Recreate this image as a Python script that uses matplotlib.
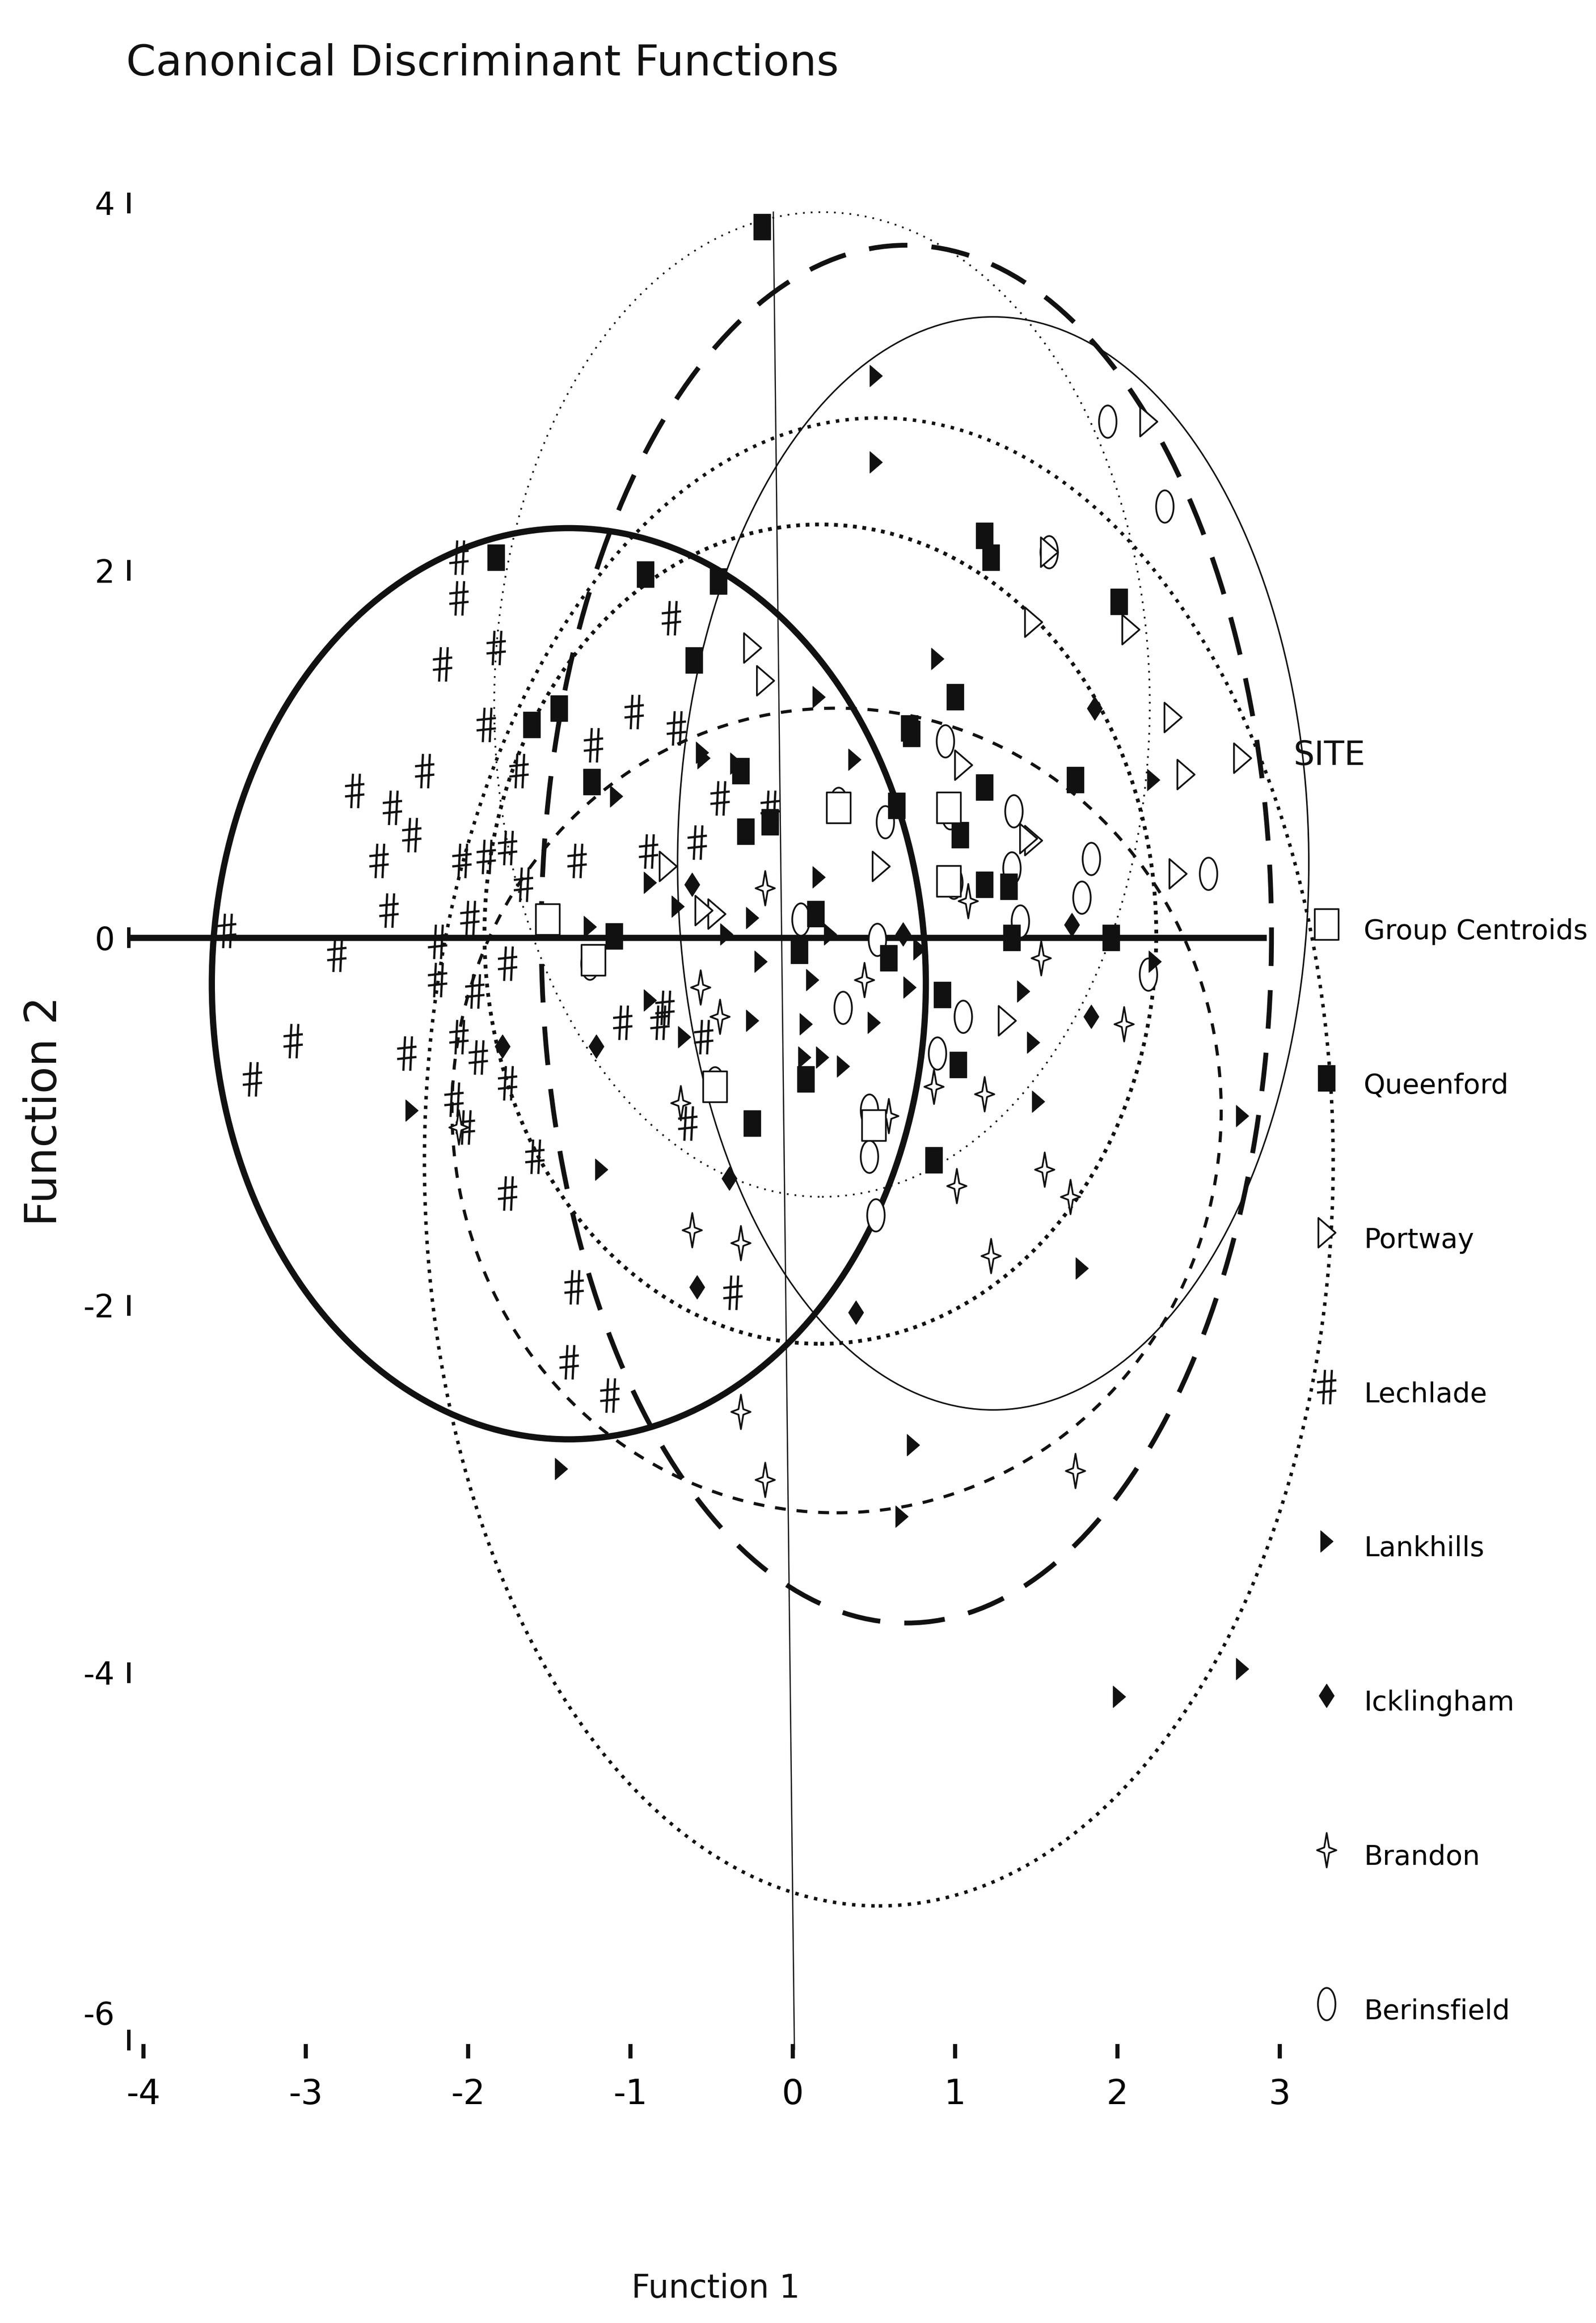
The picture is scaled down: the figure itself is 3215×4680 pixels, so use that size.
import numpy as np
import matplotlib
matplotlib.use('Agg')
import matplotlib.pyplot as plt
from matplotlib.path import Path
from matplotlib.patches import Ellipse
from matplotlib.lines import Line2D
from matplotlib.transforms import ScaledTranslation

plt.rcParams['axes.unicode_minus'] = False
FONT = ['DejaVu Sans']
INK = '#111111'

# ---- data (Function 1, Function 2) ----
lechlade_x = [-2.06, -2.06, -1.83, -2.16, -0.75, -1.23, -0.98, -0.72, -1.89, -2.27, -2.70, -1.69, -0.45,
              -3.49, -2.81, -3.08, -3.33, -2.55, -2.49, -2.35, -2.38, -2.19, -2.19, -2.04, -1.99, -1.89,
              -1.76, -1.66, -1.76, -1.96, -2.06, -1.94, -1.76, -2.09, -2.02, -1.59, -1.76, -1.33, -1.05,
              -0.82, -0.89, -0.59, -1.35, -1.38, -1.13, -0.37, -0.79, -0.55, -0.65, -2.47, -0.14]
lechlade_y = [2.07, 1.85, 1.58, 1.49, 1.74, 1.05, 1.23, 1.14, 1.16, 0.91, 0.80, 0.91, 0.76,
              0.04, -0.09, -0.56, -0.77, 0.42, 0.15, 0.56, -0.63, -0.02, -0.23, 0.42, 0.11, 0.44,
              0.49, 0.29, -0.14, -0.29, -0.54, -0.65, -0.79, -0.88, -1.03, -1.19, -1.39, 0.42, -0.46,
              -0.46, 0.47, 0.52, -1.90, -2.31, -2.49, -1.93, -0.38, -0.54, -1.01, 0.71, 0.71]

queenford_x = [-0.19, -1.83, -0.91, -0.46, -0.61, -1.44, -1.61, -1.24, -0.32, 1.18, 1.22, 2.01, 1.00,
               1.74, 1.18, 0.72, 1.96, 0.92, 0.87, 0.08, -0.25, 0.14, 0.04, 1.02, 1.18, 1.35, 0.59,
               -0.29, -0.14, 0.73, 1.03, 0.64, 1.33, -1.10]
queenford_y = [3.87, 2.07, 1.98, 1.94, 1.51, 1.25, 1.16, 0.85, 0.91, 2.19, 2.07, 1.83, 1.31,
               0.86, 0.82, 1.14, 0.00, -0.31, -1.21, -0.77, -1.01, 0.13, -0.07, -0.69, 0.29, 0.00, -0.11,
               0.58, 0.63, 1.11, 0.56, 0.72, 0.28, 0.01]

portway_x = [2.19, 1.48, 2.08, 2.34, 2.42, 2.77, 1.05, -0.25, -0.17, 1.48, 2.37, 1.32, 1.45, 0.54,
             -0.77, -0.47, 1.58, -0.55]
portway_y = [2.81, 1.72, 1.68, 1.20, 0.89, 0.98, 0.94, 1.58, 1.40, 0.53, 0.35, -0.45, 0.54, 0.39,
             0.39, 0.13, 2.10, 0.15]

lankhills_x = [0.51, 0.51, 0.89, 0.16, 2.22, 1.48, 2.77, 1.78, 1.42, 0.74, -0.25, -0.25, 0.08, 0.18,
               0.16, 0.72, 2.01, 2.77, 0.67, -2.35, -1.18, -1.25, -0.88, -1.43, -0.55, -1.09, -0.88,
               -0.71, -0.41, -0.56, -0.35, 0.38, -0.20, 0.12, 0.07, 0.31, 2.23, 1.51, 0.23, 0.50,
               0.78, -0.67]
lankhills_y = [3.06, 2.59, 1.52, 1.31, 0.86, -0.57, -0.97, -1.80, -0.29, -2.76, 0.11, -0.45, -0.47, -0.65,
               0.33, -0.27, -4.13, -3.98, -3.15, -0.94, -1.26, 0.06, -0.34, -2.89, 0.98, 0.77, 0.30,
               0.17, 0.02, 1.01, 0.95, 0.97, -0.13, -0.23, -0.65, -0.70, -0.13, -0.89, 0.02, -0.46,
               -0.06, -0.54]

icklingham_x = [1.84, 0.39, -1.21, -1.79, -0.62, -0.59, 1.86, 1.72, -0.39, 0.68]
icklingham_y = [-0.43, -2.04, -0.59, -0.59, 0.29, -1.90, 1.25, 0.07, -1.31, 0.02]

brandon_x = [2.04, 1.01, 1.55, 1.71, 1.22, 0.44, 0.87, 1.18, 0.59, 1.08, -0.17, 1.53, -0.17, 1.74,
             -0.32, -0.62, -0.32, -0.45, -0.57, -2.06, -0.69]
brandon_y = [-0.47, -1.35, -1.26, -1.41, -1.73, -0.23, -0.81, -0.85, -0.97, 0.20, 0.27, -0.11, -2.95, -2.90,
             -2.58, -1.59, -1.66, -0.43, -0.27, -1.03, -0.90]

berinsfield_x = [1.94, 2.29, 1.58, 1.84, 2.56, 1.78, 2.19, 1.05, 1.35, 1.40, 0.31, 0.47, 0.47, 0.89,
                 0.51, 0.28, 0.57, 0.97, 0.99, -0.48, 0.52, 0.05, 0.94, 1.36, -1.25]
berinsfield_y = [2.81, 2.35, 2.10, 0.43, 0.35, 0.22, -0.20, -0.43, 0.38, 0.09, -0.38, -0.94, -1.19, -0.63,
                 -1.51, 0.73, 0.63, 0.68, 0.30, -0.79, -0.01, 0.10, 1.07, 0.69, -0.14]

centroid_x = [-1.51, -1.23, 0.28, 0.96, 0.96, 0.50, -0.48]
centroid_y = [0.10, -0.12, 0.71, 0.71, 0.31, -1.02, -0.81]

# group ellipses: centre x, centre y, half width, half height
ell_cx = [-1.38, 1.235, 0.70, 0.18, 0.17, 0.53, 0.27]
ell_cy = [-0.25, 0.405, 0.02, 1.27, 0.02, -1.22, -0.94]
ell_rx = [2.20, 1.945, 2.25, 2.02, 2.07, 2.80, 2.37]
ell_ry = [2.48, 2.975, 3.75, 2.68, 2.23, 4.05, 2.19]
ell_lw = [9, 2.2, 7, 2.5, 5.5, 5, 4.5]
ell_ls = ['-', '-', (0, (8, 5)), (0, (1, 3.5)), (0, (1, 1.5)), (0, (1, 1.8)), (0, (3.5, 3.5))]

sites = ['Group Centroids', 'Queenford', 'Portway', 'Lechlade', 'Lankhills',
         'Icklingham', 'Brandon', 'Berinsfield']

# ---- marker shapes (the scan is tall and narrow) ----
def box(w):
    return Path([(-w / 2, -0.5), (w / 2, -0.5), (w / 2, 0.5), (-w / 2, 0.5), (-w / 2, -0.5)], closed=True)

tri_right = Path([(-0.28, -0.5), (0.3, 0.0), (-0.28, 0.5), (-0.28, -0.5)], closed=True)
diamond = Path([(0, -0.5), (0.32, 0), (0, 0.5), (-0.32, 0), (0, -0.5)], closed=True)
star4 = Path([(0, 0.5), (0.07, 0.08), (0.28, 0), (0.07, -0.08), (0, -0.5),
              (-0.07, -0.08), (-0.28, 0), (-0.07, 0.08), (0, 0.5)], closed=True)
t = np.linspace(0, 2 * np.pi, 41)
oval = Path(np.column_stack([0.27 * np.cos(t), 0.5 * np.sin(t)]), closed=True)
hash_mark = Path([(-0.1, -0.5), (-0.05, 0.5), (0.1, -0.5), (0.15, 0.5),
                  (-0.28, 0.14), (0.28, 0.2), (-0.28, -0.16), (0.28, -0.1)],
                 [Path.MOVETO, Path.LINETO] * 4)

styles = {
    'Group Centroids': dict(marker=box(0.78), ms=45, mfc='white', mec=INK, mew=2.5),
    'Queenford': dict(marker=box(0.65), ms=37, mfc=INK, mec=INK, mew=1),
    'Portway': dict(marker=tri_right, ms=43, mfc='white', mec=INK, mew=2.5),
    'Lechlade': dict(marker=hash_mark, ms=50, mfc='none', mec=INK, mew=3.2),
    'Lankhills': dict(marker=tri_right, ms=31, mfc=INK, mec=INK, mew=1),
    'Icklingham': dict(marker=diamond, ms=34, mfc=INK, mec=INK, mew=1),
    'Brandon': dict(marker=star4, ms=50, mfc='white', mec=INK, mew=2.5),
    'Berinsfield': dict(marker=oval, ms=47, mfc='white', mec=INK, mew=2.5),
}

# ---- figure ----
fig = plt.figure(figsize=(32.15, 46.80), dpi=100)
ax = fig.add_axes([0.08189, 0.11390, 0.76054, 0.79873])
ax.set_xlim(-4.08, 3.4)
ax.set_ylim(-6.1, 4.0)
for s in ax.spines.values():
    s.set_visible(False)

# reference lines
ax.plot([-4.08, 2.90], [0, 0], color=INK, lw=9, solid_capstyle='projecting', zorder=2)
ax.plot([-0.12, 0.01], [3.95, -6.05], color=INK, lw=1.8, zorder=2)

for cx, cy, rx, ry, lw, ls in zip(ell_cx, ell_cy, ell_rx, ell_ry, ell_lw, ell_ls):
    ax.add_patch(Ellipse((cx, cy), 2 * rx, 2 * ry, fill=False, edgecolor=INK,
                         lw=lw, linestyle=ls, clip_on=False, zorder=2))

groups = [(lechlade_x, lechlade_y, 'Lechlade'),
          (berinsfield_x, berinsfield_y, 'Berinsfield'),
          (brandon_x, brandon_y, 'Brandon'),
          (portway_x, portway_y, 'Portway'),
          (queenford_x, queenford_y, 'Queenford'),
          (lankhills_x, lankhills_y, 'Lankhills'),
          (icklingham_x, icklingham_y, 'Icklingham'),
          (centroid_x, centroid_y, 'Group Centroids')]
for gx, gy, name in groups:
    ax.plot(gx, gy, linestyle='none', clip_on=False, zorder=3, **styles[name])

# ticks
ax.set_xticks(range(-4, 4))
ax.set_yticks([4, 2, 0, -2, -4, -6])
ax.tick_params(axis='x', direction='in', length=21, width=6, pad=28, labelsize=50, color=INK)
ax.tick_params(axis='y', direction='out', length=5, width=30, pad=18, labelsize=46, color=INK)
# the "-6" label sits a little higher in the original
lab6 = ax.yaxis.get_major_ticks()[-1].label1
lab6.set_transform(lab6.get_transform() + ScaledTranslation(0, 0.55, fig.dpi_scale_trans))

# legend (title drawn separately so it sits where the original puts it)
handles = [Line2D([], [], linestyle='none', **styles[s]) for s in sites]
leg = ax.legend(handles, sites, loc='upper left',
                bbox_to_anchor=(0.8137, 0.6087), bbox_transform=fig.transFigure,
                frameon=False, borderpad=0, borderaxespad=0, handlelength=2.0,
                handleheight=2.0, handletextpad=0.36, labelspacing=4.05,
                alignment='left', prop={'family': FONT, 'size': 40})
fig.text(0.8106, 0.6747, 'SITE', ha='left', va='center', fontsize=48, color=INK)

fig.text(0.079, 0.9726, 'Canonical Discriminant Functions', ha='left', va='center',
         fontsize=62, color=INK)
fig.text(0.4485, 0.0147, 'Function 1', ha='center', va='center', fontsize=47, color=INK)
fig.text(0.0279, 0.5217, 'Function 2', ha='center', va='center', rotation=90,
         fontsize=64, color=INK)

fig.savefig('out.png', dpi=100, facecolor='white')
